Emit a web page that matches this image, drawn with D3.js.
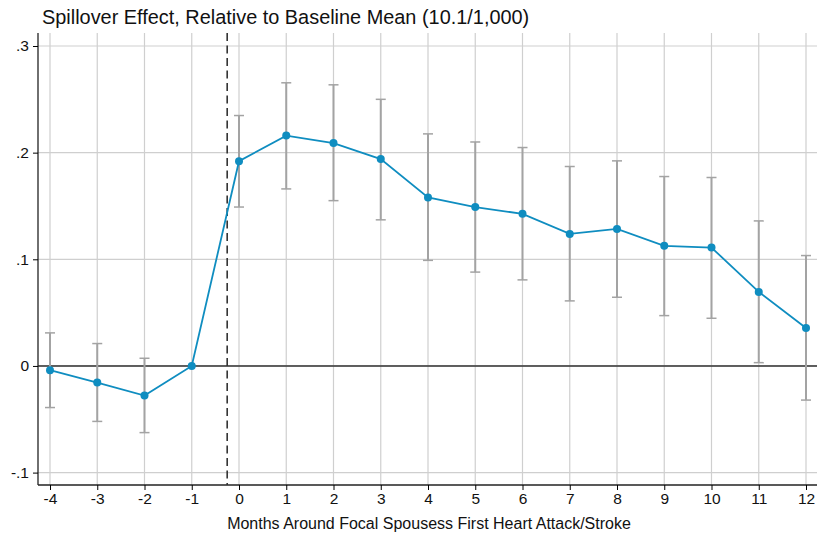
<!DOCTYPE html>
<html>
<head>
<meta charset="utf-8">
<script src="https://cdn.jsdelivr.net/npm/d3@7"></script>
<style>
  body { margin: 0; background: #fff; }
  text { font-family: "Liberation Sans", Arial, sans-serif; }
</style>
</head>
<body>
<div id="chart"></div>
<script>
// months relative to event
const months = [-4, -3, -2, -1, 0, 1, 2, 3, 4, 5, 6, 7, 8, 9, 10, 11, 12]
// point estimates
const estimates = [-0.004, -0.0156, -0.0278, 0, 0.192, 0.216, 0.209, 0.194, 0.158, 0.149, 0.1426, 0.1238, 0.1285, 0.1126, 0.111, 0.0694, 0.0356]
// confidence interval bounds (null = reference month)
const ciUpper = [0.031, 0.021, 0.0072, null, 0.2348, 0.2655, 0.2636, 0.25, 0.2176, 0.21, 0.2048, 0.187, 0.1923, 0.1776, 0.1767, 0.136, 0.1035]
const ciLower = [-0.039, -0.052, -0.0625, null, 0.149, 0.166, 0.155, 0.137, 0.099, 0.088, 0.0807, 0.061, 0.0644, 0.0472, 0.0447, 0.0031, -0.032]
const yTicks = [-0.1, 0, 0.1, 0.2, 0.3]
const eventLine = -0.25

const width = 817, height = 534
const margin = { top: 33, right: 0, bottom: 49, left: 38 }

let svg = d3.select("#chart").append("svg")
    .attr("width", width)
    .attr("height", height)

//比例尺
let x = d3.scaleLinear().domain([-4, 12]).range([50, 806])
let y = d3.scaleLinear().domain([-0.1, 0.3]).range([472.6, 46])

let plotBottom = height - margin.bottom

//网格线
svg.append("g")
    .selectAll("line")
    .data(months)
    .enter()
    .append("line")
    .attr("x1", (d) => x(d)).attr("x2", (d) => x(d))
    .attr("y1", margin.top).attr("y2", plotBottom)
    .attr("stroke", "#cfcfcf")
    .attr("stroke-width", 1.2)
svg.append("g")
    .selectAll("line")
    .data(yTicks)
    .enter()
    .append("line")
    .attr("x1", margin.left).attr("x2", width)
    .attr("y1", (d) => y(d)).attr("y2", (d) => y(d))
    .attr("stroke", "#cfcfcf")
    .attr("stroke-width", 1.2)

//零线
svg.append("line")
    .attr("x1", margin.left).attr("x2", width)
    .attr("y1", y(0)).attr("y2", y(0))
    .attr("stroke", "#333")
    .attr("stroke-width", 1.4)

//坐标轴 (用普通连字符)
let fmt = (d) => d === 0 ? "0" : (d < 0 ? "-" : "") + String(Math.abs(d)).replace("0.", ".")
let yAxis = svg.append("g")
    .attr("transform", `translate(${margin.left},0)`)
    .call(d3.axisLeft(y).tickValues(yTicks).tickFormat(fmt).tickSize(5).tickPadding(4))
yAxis.select(".domain").attr("d", `M0,${margin.top}V${plotBottom}`).attr("stroke", "#222").attr("stroke-width", 1.3)
yAxis.selectAll("text").attr("font-size", 15.5).attr("fill", "#111")
    .attr("font-family", "Liberation Sans, Arial, sans-serif")

let xAxis = svg.append("g")
    .attr("transform", `translate(0,${plotBottom})`)
    .call(d3.axisBottom(x).tickValues(months).tickFormat((d) => (d < 0 ? "-" : "") + Math.abs(d)).tickSize(5).tickPadding(3))
xAxis.select(".domain").attr("d", `M${margin.left},0H${width}`).attr("stroke", "#222").attr("stroke-width", 1.3)
xAxis.selectAll("text").attr("font-size", 15.5).attr("fill", "#111")
    .attr("font-family", "Liberation Sans, Arial, sans-serif")

//虚线
svg.append("line")
    .attr("x1", x(eventLine)).attr("x2", x(eventLine))
    .attr("y1", margin.top).attr("y2", plotBottom)
    .attr("stroke", "#333")
    .attr("stroke-width", 1.6)
    .attr("stroke-dasharray", "8,4.5")

//误差线
let pts = months.map((m, i) => ({ m: m, est: estimates[i], hi: ciUpper[i], lo: ciLower[i] }))
let ci = svg.append("g").selectAll("g")
    .data(pts.filter((d) => d.hi !== null))
    .enter()
    .append("g")
    .attr("stroke", "#a3a3a3")
    .attr("stroke-width", 2)
ci.append("line")
    .attr("x1", (d) => x(d.m)).attr("x2", (d) => x(d.m))
    .attr("y1", (d) => y(d.hi)).attr("y2", (d) => y(d.lo))
ci.append("line")
    .attr("x1", (d) => x(d.m) - 5).attr("x2", (d) => x(d.m) + 5)
    .attr("y1", (d) => y(d.hi)).attr("y2", (d) => y(d.hi))
    .attr("stroke-width", 1.5)
ci.append("line")
    .attr("x1", (d) => x(d.m) - 5).attr("x2", (d) => x(d.m) + 5)
    .attr("y1", (d) => y(d.lo)).attr("y2", (d) => y(d.lo))
    .attr("stroke-width", 1.5)

//折线和点
let lineGen = d3.line().x((d) => x(d.m)).y((d) => y(d.est))
svg.append("path")
    .datum(pts)
    .attr("d", lineGen)
    .attr("fill", "none")
    .attr("stroke", "#0f8dc0")
    .attr("stroke-width", 1.8)
svg.append("g")
    .selectAll("circle")
    .data(pts)
    .enter()
    .append("circle")
    .attr("cx", (d) => x(d.m))
    .attr("cy", (d) => y(d.est))
    .attr("r", 4)
    .attr("fill", "#0f8dc0")

//标题
svg.append("text")
    .attr("x", 42).attr("y", 24)
    .attr("font-size", 19.9)
    .attr("fill", "#111")
    .text("Spillover Effect, Relative to Baseline Mean (10.1/1,000)")
svg.append("text")
    .attr("x", 429).attr("y", 529)
    .attr("text-anchor", "middle")
    .attr("font-size", 16)
    .attr("fill", "#111")
    .text("Months Around Focal Spousess First Heart Attack/Stroke")
</script>
</body>
</html>
